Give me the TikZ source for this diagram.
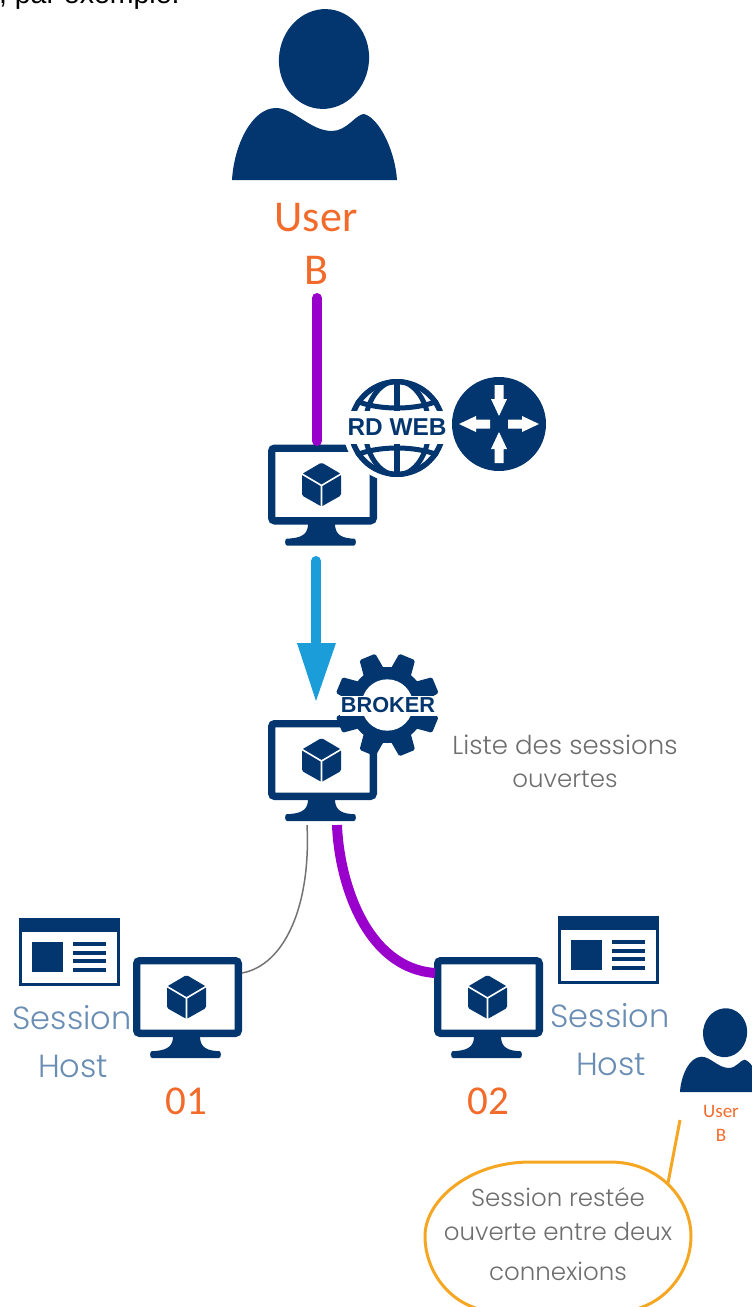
\documentclass[tikz,border=0pt]{standalone}
\usepackage{fontspec}
\setmainfont{Liberation Sans}
\newfontfamily\lightf[UprightFont=* Light]{Poppins}
\newfontfamily\labelf{Carlito}
\usetikzlibrary{arrows.meta}
\definecolor{navy}{HTML}{03366F}
\definecolor{orangetxt}{HTML}{F26B2A}
\definecolor{purpleline}{HTML}{9A00CC}
\definecolor{bluearrow}{HTML}{1B9DD9}
\definecolor{hosttxt}{HTML}{6A8DB4}
\definecolor{calloutline}{HTML}{F5A623}
\definecolor{graytxt}{HTML}{6E6E6E}
\tikzset{
  every node/.style={inner sep=0pt,outer sep=0pt,align=center},
  hosttext/.style={font=\lightf\fontsize{32}{32}\selectfont,text=hosttxt},
  graytext/.style={font=\lightf\fontsize{24.5}{24.5}\selectfont,text=graytxt},
  biglabel/.style={font=\labelf\fontsize{41}{41}\selectfont,text=orangetxt},
  userlabel/.style={font=\labelf\fontsize{44}{44}\selectfont,text=orangetxt},
  smalllabel/.style={font=\labelf\fontsize{19}{19}\selectfont,text=orangetxt},
  monitor/.pic={
    \draw[navy,line width=7.4,rounded corners=3,fill=white] (3.7,3.7) rectangle (105.3,76.3);
    \fill[navy] (40,79) .. controls (40,88) and (36,93) .. (22,94)
       -- (19,94) .. controls (16.5,94) and (16.5,101) .. (19,101) -- (86,101)
       .. controls (88.5,101) and (88.5,94) .. (86,94) -- (83,94)
       .. controls (71,93) and (67,88) .. (67,79) -- cycle;
    \fill[navy,rounded corners=1.5] (53.5,18) -- (73,29.5) -- (73,51) -- (53.5,62) -- (34,51) -- (34,29.5) -- cycle;
    \draw[white,line width=1.6] (53.5,41) -- (53.5,62) (53.5,41) -- (73,29.5) (53.5,41) -- (34,29.5);
  },
  sessionwin/.pic={
    \draw[navy,line width=3,fill=white] (1.5,1.5) rectangle (99.5,66.5);
    \fill[navy] (0,0) rectangle (101,14);
    \fill[navy] (13,24) rectangle (44,54);
    \foreach \ly in {26,34.7,43.4,52}{\fill[navy] (54,\ly-2) rectangle (87,\ly+2);}
  },
  userfig/.pic={
    \fill[navy,rotate around={-8:(92,-121)}] (92,-121) ellipse [x radius=45,y radius=50];
    \fill[navy] (0,0) .. controls (2,-35) and (20,-72) .. (44,-72)
      .. controls (62,-72) and (78,-49) .. (100,-49)
      .. controls (115,-49) and (124,-66) .. (132,-66)
      .. controls (147,-62) and (163,-30) .. (165,0) -- cycle;
  },
  routerarrow/.pic={
    \fill[white] (-4.5,-39) -- (4.5,-39) -- (4.5,-25) -- (8,-25) -- (0,-8) -- (-8,-25) -- (-4.5,-25) -- cycle;
  },
}
\begin{document}
\begin{tikzpicture}[x=1pt,y=-1pt]
\useasboundingbox (0,0) rectangle (752,1307);
\clip (0,0) rectangle (752,1307);
% cropped sentence at the very top
\node[anchor=base west,font=\fontsize{28.5}{28.5}\selectfont,text=black] (intro) at (-1,3) {, par exemple:};

% big user
\pic at (232,180) {userfig};
\node[userlabel] (userbig) at (316,218) {User};
\node[userlabel] (userbigb) at (316,270) {B};

% monitors
\pic at (268,444.5) {monitor};
\pic at (268,720) {monitor};
\pic at (133,957) {monitor};
\pic at (434,957) {monitor};
\coordinate (webtop) at (317,441);
\coordinate (usertail) at (317,298);
\coordinate (webbottom) at (316,561);
\coordinate (brokertop) at (316,701);
\coordinate (brokerL) at (307,825);
\coordinate (brokerR) at (337,825);
\coordinate (host1) at (242,973);
\coordinate (host2) at (435,973);

% connectors
\draw[purpleline,line width=10,line cap=round] (usertail) -- (webtop);
\draw[bluearrow,line width=10,line cap=round,shorten >=50pt] (webbottom) -- (brokertop);
\fill[bluearrow] (297,643) -- (336,643) -- (brokertop) -- cycle;
\draw[black!55,line width=1.5] (brokerL) .. controls (311,905) and (285,965) .. (host1);
\draw[purpleline,line width=10] (brokerR) .. controls (339,880) and (365,968) .. (host2);

% RD WEB globe
\fill[white] (397,428) circle (54);
\begin{scope}
  \clip (397,428) circle (49);
  \draw[navy,line width=6] (397,428) circle (46.5);
  \draw[navy,line width=5.5] (397,378) -- (397,478);
  \draw[navy,line width=5] (397,428) ellipse [x radius=32,y radius=47];
  \draw[navy,line width=5] (352,399) .. controls (375,411) and (419,411) .. (442,399);
  \draw[navy,line width=5] (352,457) .. controls (375,445) and (419,445) .. (442,457);
\end{scope}
\node[fill=white,minimum width=104,minimum height=33,text=navy,font=\bfseries\fontsize{24.4}{24.4}\selectfont] (rdweb) at (397,427) {RD WEB};

% router
\fill[navy] (499,424) circle (47);
\begin{scope}[shift={(499,424)}]
  \pic {routerarrow};
  \pic[rotate=180] {routerarrow};
\end{scope}
\fill[white] (499,424) ++(-40,0) -- ++(17,-8) -- ++(0,3.5) -- ++(14,0) -- ++(0,9) -- ++(-14,0) -- ++(0,3.5) -- cycle;
\fill[white] (499,424) ++(40,0) -- ++(-17,-8) -- ++(0,3.5) -- ++(-14,0) -- ++(0,9) -- ++(14,0) -- ++(0,3.5) -- cycle;

% broker gear
\begin{scope}[shift={(387.3,705)}]
  \foreach \a in {22.5,67.5,...,337.5}{
    \fill[navy,rotate=\a,rounded corners=1.5] (33,-11) -- (52,-8.5) -- (52,8.5) -- (33,11) -- cycle;
  }
  \fill[navy] (0,0) circle (38);
  \fill[white] (0,0) circle (25.7);
\end{scope}
\node[fill=white,minimum width=97,minimum height=20,text=navy,font=\bfseries\fontsize{21.7}{21.7}\selectfont] (brokerlabel) at (388,705.5) {BROKER};

\node[graytext,font=\lightf\fontsize{26}{26}\selectfont] (liste) at (565,745) {Liste des sessions};
\node[graytext] (ouvertes) at (565,779) {ouvertes};

% session hosts
\pic at (19,918) {sessionwin};
\pic at (557.5,916) {sessionwin};
\node[hosttext] (s1) at (72,1018) {Session};
\node[hosttext] (h1) at (73,1066) {Host};
\node[hosttext] (s2) at (610,1016) {Session};
\node[hosttext] (h2) at (611,1064) {Host};
\node[biglabel] (n1) at (186,1101) {01};
\node[biglabel] (n2) at (488,1101) {02};

% small user
\pic[shift={(680,1092)},scale=.49] {userfig};
\node[smalllabel] (usersmall) at (721,1111) {User};
\node[smalllabel] (usersmallb) at (721,1135) {B};

% callout
\draw[calloutline,line width=3,fill=white] (530,1162) -- (610,1162)
   .. controls (660,1162) and (691,1200) .. (691,1236)
   .. controls (691,1275) and (660,1312) .. (615,1312) -- (500,1312)
   .. controls (455,1312) and (425,1275) .. (425,1236)
   .. controls (425,1200) and (470,1162) .. (530,1162) -- cycle;
\coordinate (calloutfoot) at (668,1183);
\coordinate (calloutfree) at (680,1120);
\draw[calloutline,line width=3] (calloutfree) -- (calloutfoot);
\node[graytext] (c1) at (558,1197) {Session restée};
\node[graytext] (c2) at (558,1232) {ouverte entre deux};
\node[graytext] (c3) at (558,1271) {connexions};
\end{tikzpicture}
\end{document}
